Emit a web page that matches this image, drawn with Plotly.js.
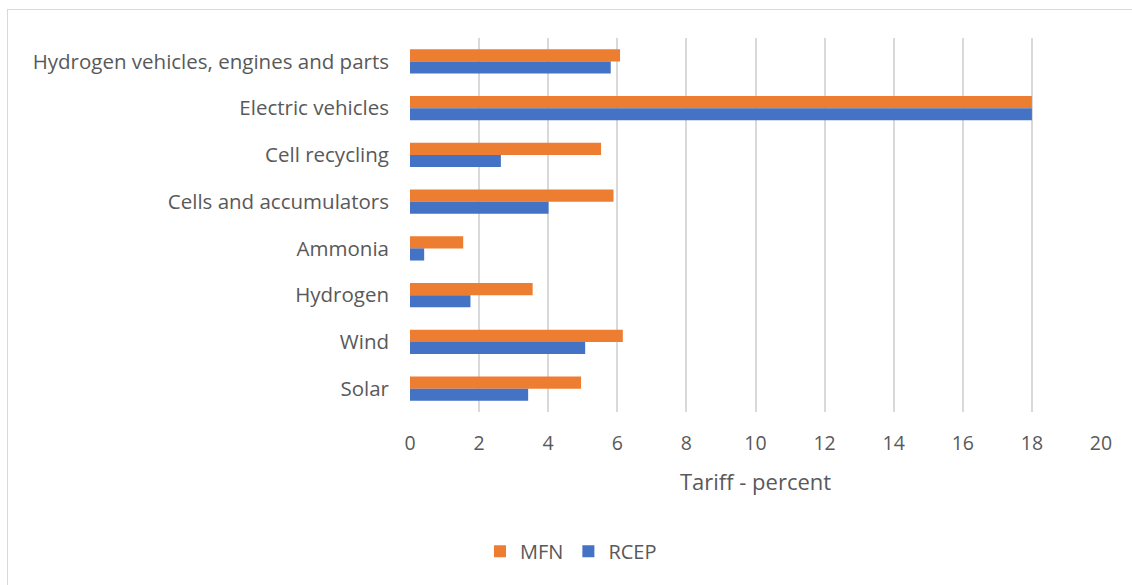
<!DOCTYPE html>
<html>
<head>
<meta charset="utf-8">
<script src="https://cdn.plot.ly/plotly-3.0.1.min.js"></script>
<style>
html,body{margin:0;padding:0;background:#fff;}
#frame{position:absolute;left:7px;top:9px;width:1140px;height:600px;border:1px solid #d9d9d9;box-sizing:border-box;pointer-events:none;}
#chart{position:absolute;left:0;top:0;width:1132px;height:585px;}
</style>
</head>
<body>
<div id="chart"></div>
<div id="frame"></div>
<script>
const categories = ["Hydrogen vehicles, engines and parts","Electric vehicles","Cell recycling","Cells and accumulators","Ammonia","Hydrogen","Wind","Solar"];
const mfn  = [6.08, 18.0, 5.53, 5.89, 1.54, 3.55, 6.16, 4.95];
const rcep = [5.81, 18.0, 2.63, 4.01, 0.41, 1.75, 5.07, 3.42];
const xTicks = [0,2,4,6,8,10,12,14,16,18,20];

const fam = "Open Sans, Calibri, sans-serif";
const col = "#595959";

const data = [
  {type:"bar", orientation:"h", name:"MFN", y:categories, x:mfn, marker:{color:"#ED7D31"}, hoverinfo:"x+name"},
  {type:"bar", orientation:"h", name:"RCEP", y:categories, x:rcep, marker:{color:"#4472C4"}, hoverinfo:"x+name"}
];

const layout = {
  width:1132, height:585,
  margin:{l:410, r:31, t:37.5, b:172.5},
  paper_bgcolor:"rgba(0,0,0,0)", plot_bgcolor:"#fff",
  font:{family:fam, size:18, color:col},
  barmode:"group", bargap:0.48, bargroupgap:0,
  xaxis:{
    range:[0,20], tickvals:xTicks, ticktext:xTicks.map(String),
    showgrid:true, gridcolor:"#d9d9d9", gridwidth:2,
    zeroline:false, showline:false, ticks:"",
    ticklabelstandoff:17,
    tickfont:{family:fam, size:19.5, color:col},
    title:{text:"Tariff - percent", font:{family:fam, size:22, color:col}, standoff:20},
    fixedrange:true
  },
  yaxis:{
    type:"category", autorange:"reversed",
    showgrid:false, zeroline:false, showline:false, ticks:"",
    ticklabelstandoff:20,
    tickfont:{family:fam, size:20.5, color:col},
    fixedrange:true
  },
  showlegend:true,
  legend:{orientation:"h", x:0.233, xanchor:"center", y:-0.372, yanchor:"middle",
          font:{family:fam, size:20, color:col}, traceorder:"normal"}
};

Plotly.newPlot("chart", data, layout, {displayModeBar:false, staticPlot:true});
</script>
</body>
</html>
